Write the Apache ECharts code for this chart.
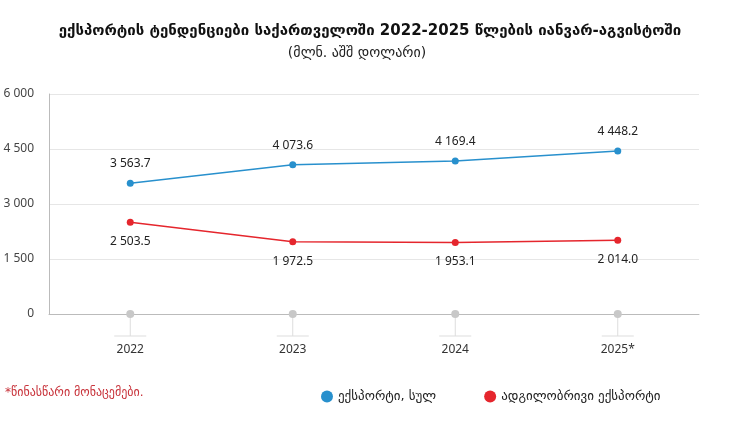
<!DOCTYPE html>
<html><head><meta charset="utf-8">
<script src="https://cdn.jsdelivr.net/npm/echarts@6/dist/echarts.min.js"></script>
<style>html,body{margin:0;padding:0;background:#fff}#c{width:737px;height:435px}</style>
</head><body><div id="c"></div>
<script>
const categories = ['2022', '2023', '2024', '2025*'];
const exportTotal = [3563.7, 4073.6, 4169.4, 4448.2];
const exportLocal = [2503.5, 1972.5, 1953.1, 2014.0];
const baseline = [0, 0, 0, 0];
const yTicks = [0, 1500, 3000, 4500, 6000];
const seriesNames = ['ექსპორტი, სულ', 'ადგილობრივი ექსპორტი'];

const GF = 'DejaVu Sans, Noto Sans, sans-serif';
const NF = 'Noto Sans, Open Sans, sans-serif';
function fmt(v, dec) {
  const s = v.toFixed(dec);
  const parts = s.split('.');
  parts[0] = parts[0].replace(/\B(?=(\d{3})+(?!\d))/g, ' ');
  return parts.join('.');
}
const chart = echarts.init(document.getElementById('c'));
chart.setOption({
  animation: false,
  title: [
    {text: 'ექსპორტის ტენდენციები საქართველოში 2022-2025 წლების იანვარ-აგვისტოში', left: 365, top: 19, textAlign: 'center',
     textStyle: {fontFamily: GF, fontSize: 15, fontWeight: 'bold', color: '#111'}},
    {text: '(მლნ. აშშ დოლარი)', left: 352, top: 41, textAlign: 'center',
     textStyle: {fontFamily: GF, fontSize: 14, fontWeight: 'normal', color: '#222'}},
    {text: '*წინასწარი მონაცემები.', left: 0, top: 382,
     textStyle: {fontFamily: GF, fontSize: 12, fontWeight: 'normal', color: '#c8323a'}}
  ],
  legend: {
    left: 316, top: 385, itemGap: 48, icon: 'circle', itemWidth: 12, itemHeight: 12,
    data: seriesNames,
    textStyle: {fontFamily: GF, fontSize: 13, color: '#222'}
  },
  grid: {left: 49, right: 38, top: 94, bottom: 121},
  xAxis: {
    type: 'category', data: categories, boundaryGap: true,
    axisLine: {show: true, lineStyle: {color: '#bbb'}},
    axisTick: {show: false},
    axisLabel: {margin: 30, fontFamily: NF, fontSize: 12, color: '#333'}
  },
  yAxis: {
    type: 'value', min: 0, max: 6000, interval: 1500,
    axisLine: {show: true, lineStyle: {color: '#bbb'}},
    axisTick: {show: false},
    splitLine: {lineStyle: {color: '#e6e6e6'}},
    axisLabel: {margin: 15, fontFamily: NF, fontSize: 12, color: '#444', formatter: v => fmt(v, 0)}
  },
  series: [
    {
      name: seriesNames[0], type: 'line', data: exportTotal, color: '#2890cd',
      symbol: 'circle', symbolSize: 7, lineStyle: {width: 1.5},
      label: {show: true, position: 'top', distance: 10, fontFamily: NF, fontSize: 12, color: '#222', formatter: p => fmt(p.value, 1)}
    },
    {
      name: seriesNames[1], type: 'line', data: exportLocal, color: '#e5262d',
      symbol: 'circle', symbolSize: 7, lineStyle: {width: 1.5},
      label: {show: true, position: 'bottom', distance: 10, fontFamily: NF, fontSize: 12, color: '#222', formatter: p => fmt(p.value, 1)}
    },
    {
      name: 'base', type: 'custom', data: baseline, clip: false, z: 5,
      renderItem: function (params, api) {
        const pt = api.coord([params.dataIndex, api.value(0)]);
        return {type: 'group', children: [
          {type: 'line', shape: {x1: pt[0], y1: pt[1], x2: pt[0], y2: pt[1] + 22}, style: {stroke: '#ddd', lineWidth: 1}},
          {type: 'line', shape: {x1: pt[0] - 16, y1: pt[1] + 22, x2: pt[0] + 16, y2: pt[1] + 22}, style: {stroke: '#ddd', lineWidth: 1}},
          {type: 'circle', shape: {cx: pt[0], cy: pt[1], r: 4}, style: {fill: '#c8c8c8'}}
        ]};
      },
      encode: {x: 0, y: 0}
    }
  ]
});
</script></body></html>
